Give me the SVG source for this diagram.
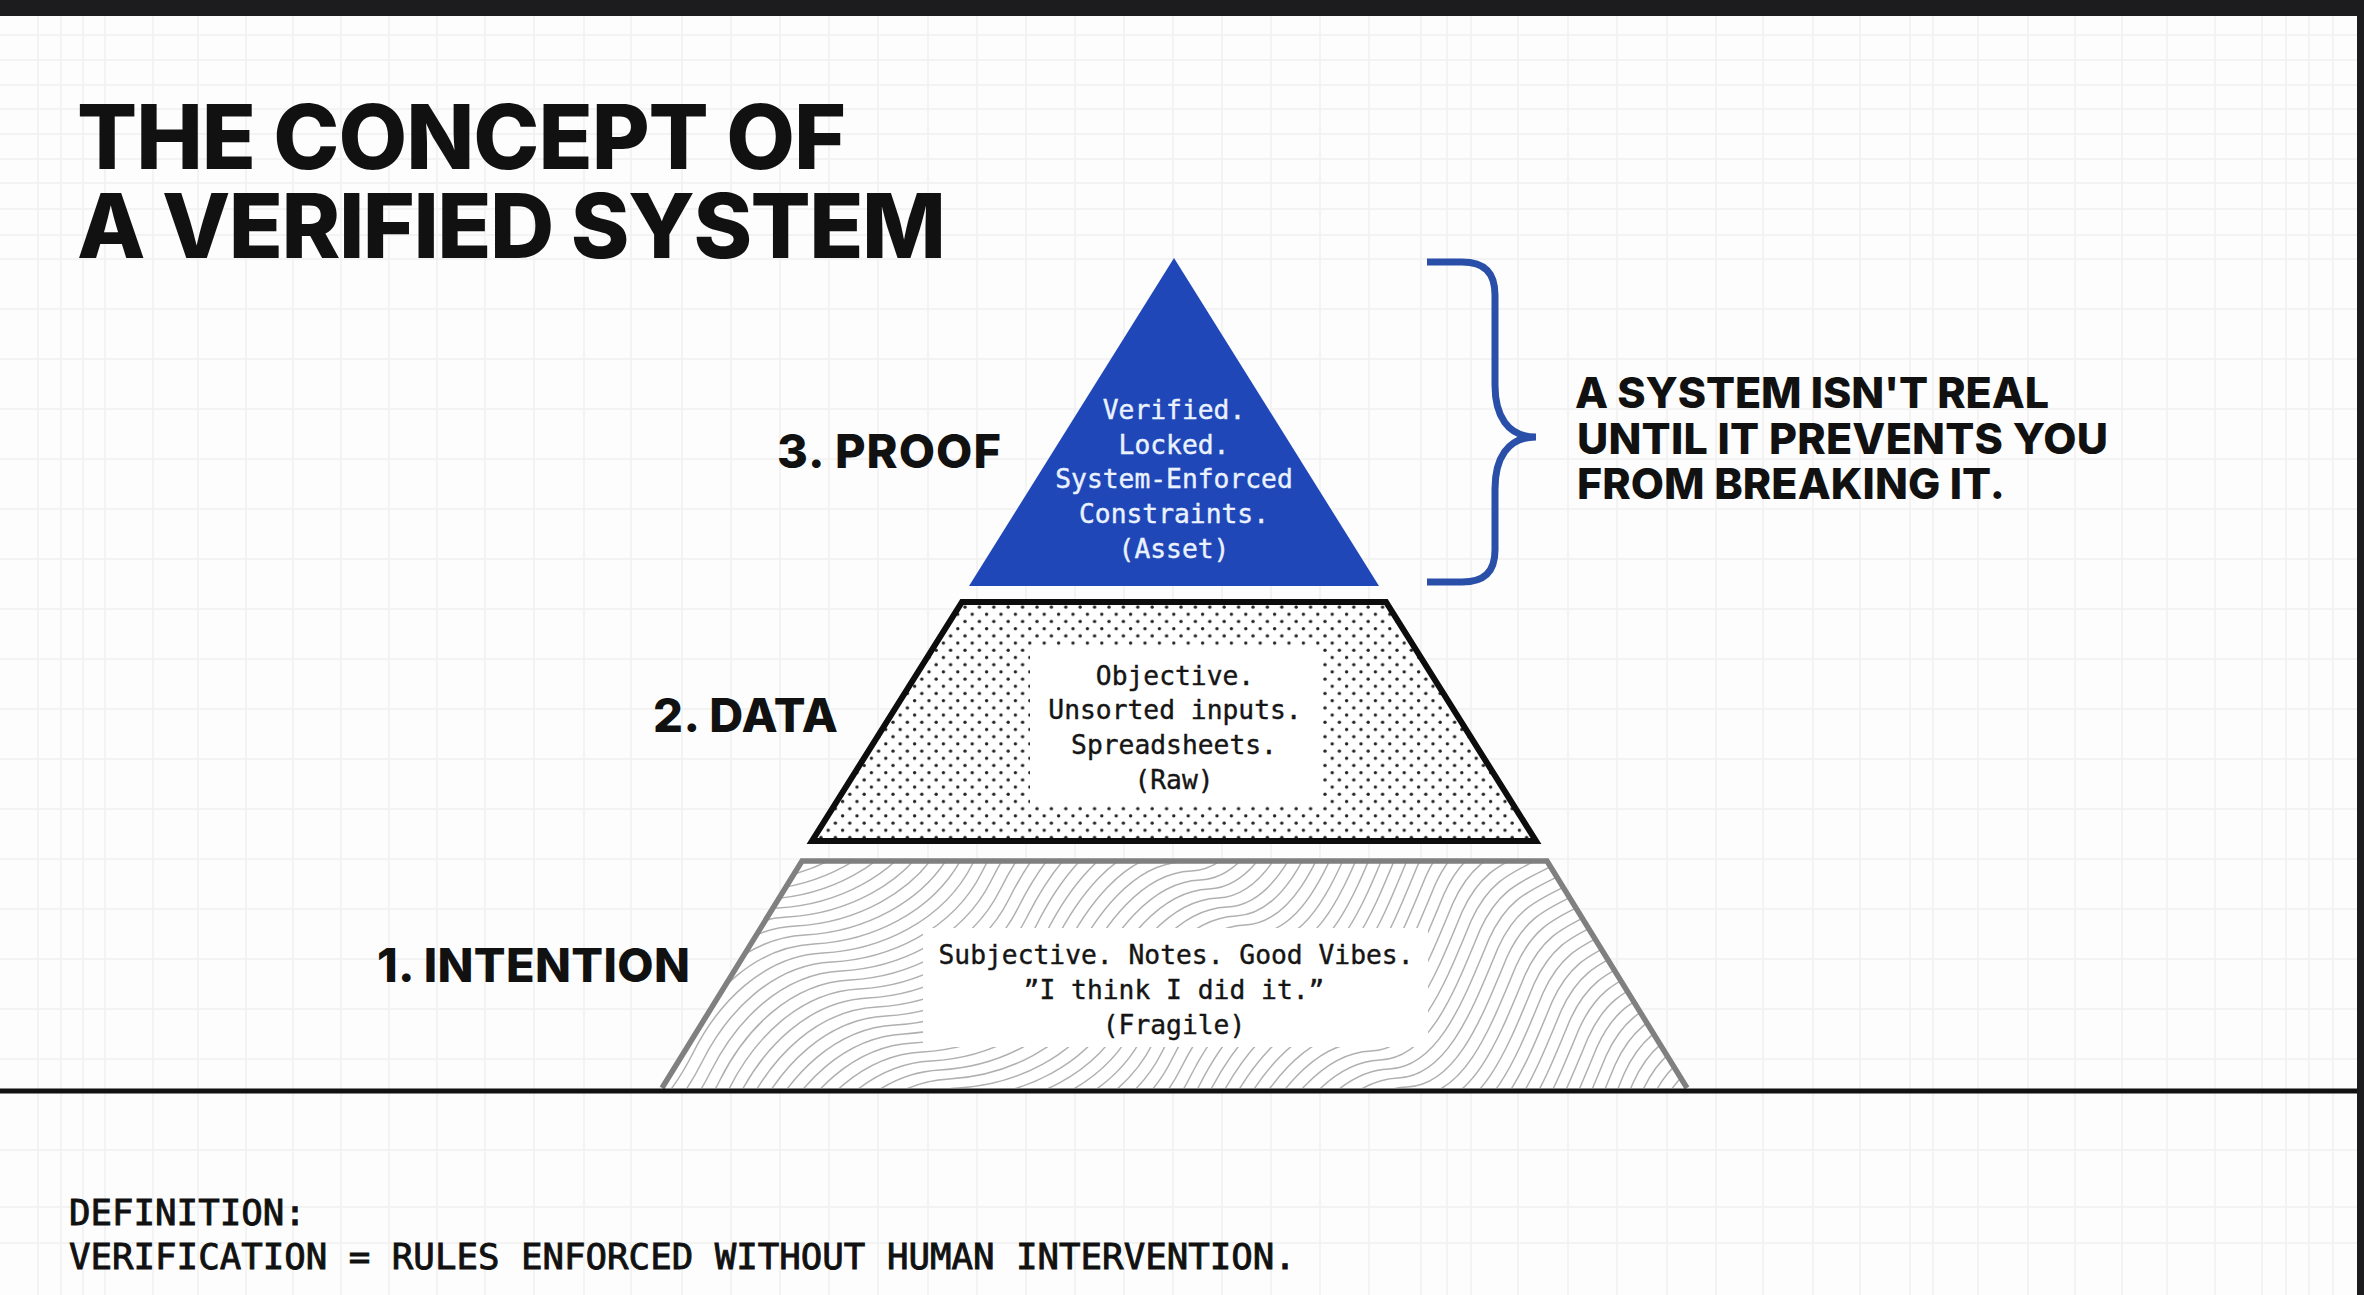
<svg xmlns="http://www.w3.org/2000/svg" xmlns:xlink="http://www.w3.org/1999/xlink" width="2364" height="1295" viewBox="0 0 2364 1295">
<style>
.head{font-family:Inter,"Liberation Sans",sans-serif;font-weight:800;fill:#111}
.mono{font-family:"DejaVu Sans Mono","Liberation Mono",monospace;font-size:26.3px;text-anchor:middle;fill:#151515;stroke:#151515;stroke-width:.4}
.lt{fill:#eaf2ff;stroke:#eaf2ff}
.def{font-family:"DejaVu Sans Mono","Liberation Mono",monospace;font-size:35.75px;fill:#111;stroke:#111;stroke-width:.9}
.wave{fill:none;stroke:#b0b0b0;stroke-width:1.5}
</style>
<defs>
<pattern id="dots" width="14.4" height="14.4" patternUnits="userSpaceOnUse" patternTransform="translate(962 603)">
<circle cx="3" cy="4" r="1.7" fill="#222"/><circle cx="10.2" cy="11.2" r="1.7" fill="#222"/>
</pattern>
<clipPath id="c1"><polygon points="802,861 1547,861 1687,1088 662,1088"/></clipPath>
<path id="w" class="wave" d="M440 1270C470 1210 530 1182 600 1180C650 1178 695 1130 720 1080C745 1030 790 983 850 980C905 977 970 950 1000 890C1022 846 1060 792 1110 790C1160 788 1185 720 1210 660C1228 620 1250 612 1280 597C1320 578 1345 550 1365 500"/>
</defs>
<rect id="paper" width="2364" height="1295" fill="#fdfdfd"/>
<g id="grid" fill="none" stroke="#f0f0f0" stroke-width="1.6">
<path d="M0 35H2357M0 60H2357M0 85H2357M0 109H2357M0 134H2357M0 159H2357M0 183H2357M0 209H2357M0 235H2357M0 259H2357M0 309H2357M0 359H2357M0 409H2357M0 459H2357M0 509H2357M0 559H2357M0 609H2357M0 659H2357M0 709H2357M0 759H2357M0 809H2357M0 859H2357M0 909H2357M0 959H2357M0 1009H2357M0 1059H2357M0 1150H2357M0 1207H2357M0 1243H2357"/>
<path d="M38 16V1295M61 16V1295M83 16V1295M105 16V1295M153 16V1295M198 16V1295M246 16V1295M293 16V1295M341 16V1295M389 16V1295M437 16V1295M485 16V1295M534 16V1295M584 16V1295M631 16V1295M682 16V1295M731 16V1295M780 16V1295M829 16V1295M878 16V1295M928 16V1295M977 16V1295M1026 16V1295M1075 16V1295M1124 16V1295M1173 16V1295M1222 16V1295M1271 16V1295M1320 16V1295M1369 16V1295M1421 16V1295M1447 16V1295M1471 16V1295M1518 16V1295M1568 16V1295M1617 16V1295M1667 16V1295M1716 16V1295M1763 16V1295M1813 16V1295M1860 16V1295M1910 16V1295M1933 16V1295M1978 16V1295M2028 16V1295M2075 16V1295M2122 16V1295M2167 16V1295M2215 16V1295M2262 16V1295M2286 16V1295M2309 16V1295M2333 16V1295"/>
</g>
<g id="frame" fill="#1c1c1e"><rect width="2364" height="16"/><rect x="2357" width="7" height="1295"/></g>
<g id="title" class="head" font-size="89">
<text x="77" y="169" textLength="769">THE CONCEPT OF</text>
<text x="77" y="258" textLength="869">A VERIFIED SYSTEM</text>
</g>
<g id="node-intention">
<polygon points="802,861 1547,861 1687,1088 662,1088" fill="#fff"/>
<g clip-path="url(#c1)">
<use href="#w" transform="translate(-108 -108)"/><use href="#w" transform="translate(-99 -99)"/><use href="#w" transform="translate(-90 -90)"/><use href="#w" transform="translate(-81 -81)"/><use href="#w" transform="translate(-72 -72)"/><use href="#w" transform="translate(-63 -63)"/><use href="#w" transform="translate(-54 -54)"/><use href="#w" transform="translate(-45 -45)"/><use href="#w" transform="translate(-36 -36)"/><use href="#w" transform="translate(-27 -27)"/><use href="#w" transform="translate(-18 -18)"/><use href="#w" transform="translate(-9 -9)"/><use href="#w"/><use href="#w" transform="translate(9 9)"/><use href="#w" transform="translate(18 18)"/><use href="#w" transform="translate(27 27)"/><use href="#w" transform="translate(36 36)"/><use href="#w" transform="translate(45 45)"/><use href="#w" transform="translate(54 54)"/><use href="#w" transform="translate(63 63)"/><use href="#w" transform="translate(72 72)"/><use href="#w" transform="translate(81 81)"/><use href="#w" transform="translate(90 90)"/><use href="#w" transform="translate(99 99)"/><use href="#w" transform="translate(108 108)"/><use href="#w" transform="translate(117 117)"/><use href="#w" transform="translate(126 126)"/><use href="#w" transform="translate(135 135)"/><use href="#w" transform="translate(144 144)"/><use href="#w" transform="translate(153 153)"/><use href="#w" transform="translate(162 162)"/><use href="#w" transform="translate(171 171)"/><use href="#w" transform="translate(180 180)"/><use href="#w" transform="translate(189 189)"/><use href="#w" transform="translate(198 198)"/><use href="#w" transform="translate(207 207)"/><use href="#w" transform="translate(216 216)"/><use href="#w" transform="translate(225 225)"/><use href="#w" transform="translate(234 234)"/><use href="#w" transform="translate(243 243)"/><use href="#w" transform="translate(252 252)"/><use href="#w" transform="translate(261 261)"/><use href="#w" transform="translate(270 270)"/><use href="#w" transform="translate(279 279)"/><use href="#w" transform="translate(288 288)"/><use href="#w" transform="translate(297 297)"/><use href="#w" transform="translate(306 306)"/><use href="#w" transform="translate(315 315)"/><use href="#w" transform="translate(324 324)"/><use href="#w" transform="translate(333 333)"/><use href="#w" transform="translate(342 342)"/><use href="#w" transform="translate(351 351)"/><use href="#w" transform="translate(360 360)"/><use href="#w" transform="translate(369 369)"/><use href="#w" transform="translate(378 378)"/><use href="#w" transform="translate(387 387)"/><use href="#w" transform="translate(396 396)"/><use href="#w" transform="translate(405 405)"/><use href="#w" transform="translate(414 414)"/><use href="#w" transform="translate(423 423)"/><use href="#w" transform="translate(432 432)"/><use href="#w" transform="translate(441 441)"/><use href="#w" transform="translate(450 450)"/><use href="#w" transform="translate(459 459)"/><use href="#w" transform="translate(468 468)"/><use href="#w" transform="translate(477 477)"/>
</g>
<rect x="923" y="928" width="505" height="119" fill="#fff"/>
<polyline points="662,1088 802,861 1547,861 1687,1088" fill="none" stroke="#808080" stroke-width="5.5"/>
<text class="mono" x="1176" y="964">Subjective. Notes. Good Vibes.</text>
<text class="mono" x="1174" y="999">”I think I did it.”</text>
<text class="mono" x="1174" y="1034">(Fragile)</text>
<text class="head" x="377" y="982" font-size="47" textLength="313">1. INTENTION</text>
</g>
<g id="node-data">
<polygon points="962,602 1386,602 1536,841 812,841" fill="#fff"/>
<polygon points="962,602 1386,602 1536,841 812,841" fill="url(#dots)"/>
<rect x="1030" y="647" width="291" height="158" fill="#fff"/>
<polygon points="962,602 1386,602 1536,841 812,841" fill="none" stroke="#0d0d0d" stroke-width="6"/>
<text class="mono" x="1175" y="685">Objective.</text>
<text class="mono" x="1175" y="719">Unsorted inputs.</text>
<text class="mono" x="1174" y="754">Spreadsheets.</text>
<text class="mono" x="1174" y="789">(Raw)</text>
<text class="head" x="653" y="732" font-size="47" textLength="185">2. DATA</text>
</g>
<g id="node-proof">
<polygon points="1174,258 1379,586 969,586" fill="#1f47b8"/>
<text class="mono lt" x="1174" y="419">Verified.</text>
<text class="mono lt" x="1174" y="454">Locked.</text>
<text class="mono lt" x="1174" y="488">System-Enforced</text>
<text class="mono lt" x="1174" y="523">Constraints.</text>
<text class="mono lt" x="1174" y="558">(Asset)</text>
<text class="head" x="777" y="468" font-size="47" textLength="224">3. PROOF</text>
</g>
<g id="connectors">
<path id="ground" d="M0 1091H2357" fill="none" stroke="#111" stroke-width="5"/>
<path id="brace" d="M1427 262H1462C1484 262 1495 272 1495 295V385C1495 415 1507 437 1536 437C1507 437 1495 459 1495 489V550C1495 572 1484 582 1462 582H1427" fill="none" stroke="#2a4fa8" stroke-width="7"/>
</g>
<g id="callout" class="head" font-size="43">
<text x="1575" y="408" textLength="474">A SYSTEM ISN'T REAL</text>
<text x="1577" y="454" textLength="531">UNTIL IT PREVENTS YOU</text>
<text x="1577" y="499" textLength="428">FROM BREAKING IT.</text>
</g>
<g id="definition" class="def">
<text x="69" y="1225">DEFINITION:</text>
<text x="69" y="1269">VERIFICATION = RULES ENFORCED WITHOUT HUMAN INTERVENTION.</text>
</g>
</svg>
